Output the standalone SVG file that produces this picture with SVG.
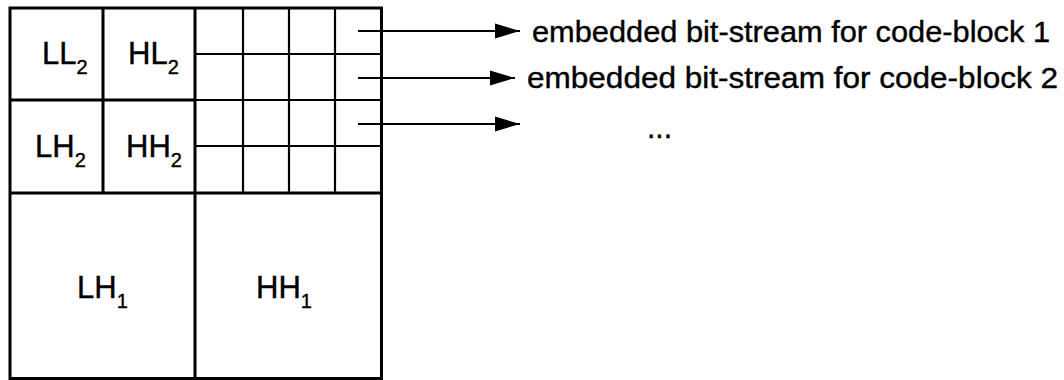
<svg xmlns="http://www.w3.org/2000/svg" width="1064" height="380" viewBox="0 0 1064 380">
  <style>
    .frame { fill: none; stroke: #000; stroke-width: 3; }
    .grid { fill: none; stroke: #000; stroke-width: 2.2; }
    .band { font-family: "Liberation Sans", Arial, sans-serif; font-size: 31px; fill: #000; stroke: #000; stroke-width: 0.4; }
    .sub { font-size: 20px; }
    .label { font-family: "Liberation Sans", Arial, sans-serif; font-size: 30px; fill: #000; stroke: #000; stroke-width: 0.4; }
    .conn { stroke: #000; stroke-width: 2.2; fill: none; marker-end: url(#head); }
  </style>
  <defs>
    <marker id="head" markerUnits="userSpaceOnUse" markerWidth="26" markerHeight="16" refX="25" refY="8" orient="auto">
      <path d="M0,0.5 L25,8 L0,15.5 Z" fill="#000"/>
    </marker>
  </defs>
  <rect width="1064" height="380" fill="#fff"/>

  <!-- subband layout -->
  <g id="subbands">
    <rect class="frame" x="10" y="8" width="371.5" height="370.5"/>
    <line class="frame" x1="195" y1="8" x2="195" y2="378.5"/>
    <line class="frame" x1="10" y1="193" x2="381.5" y2="193"/>
    <line class="frame" x1="103" y1="8" x2="103" y2="193"/>
    <line class="frame" x1="10" y1="100" x2="195" y2="100"/>
  </g>

  <!-- code-blocks of the level-1 HL band -->
  <g id="codeblocks">
    <line class="grid" x1="195" y1="100" x2="381.5" y2="100"/>
    <line class="grid" x1="195" y1="54" x2="381.5" y2="54"/>
    <line class="grid" x1="195" y1="146" x2="381.5" y2="146"/>
    <line class="grid" x1="243" y1="8" x2="243" y2="193"/>
    <line class="grid" x1="289" y1="8" x2="289" y2="193"/>
    <line class="grid" x1="335" y1="8" x2="335" y2="193"/>
  </g>

  <g id="LL2"><text class="band" x="42" y="64">LL<tspan class="sub" dy="10">2</tspan></text></g>
  <g id="HL2"><text class="band" x="128" y="64">HL<tspan class="sub" dy="10">2</tspan></text></g>
  <g id="LH2"><text class="band" x="35" y="157">LH<tspan class="sub" dy="10">2</tspan></text></g>
  <g id="HH2"><text class="band" x="126" y="157">HH<tspan class="sub" dy="10">2</tspan></text></g>
  <g id="LH1"><text class="band" x="77" y="298">LH<tspan class="sub" dy="10">1</tspan></text></g>
  <g id="HH1"><text class="band" x="256" y="298">HH<tspan class="sub" dy="10">1</tspan></text></g>

  <g id="connectors">
    <line class="conn" x1="358" y1="31" x2="520" y2="31"/>
    <line class="conn" x1="358" y1="78" x2="515" y2="78"/>
    <line class="conn" x1="358" y1="124" x2="520" y2="124"/>
  </g>

  <g id="stream1"><text class="label" x="532" y="42" textLength="518" lengthAdjust="spacingAndGlyphs">embedded bit-stream for code-block 1</text></g>
  <g id="stream2"><text class="label" x="527" y="88" textLength="531" lengthAdjust="spacingAndGlyphs">embedded bit-stream for code-block 2</text></g>
  <g id="more"><text class="label" x="647" y="138">...</text></g>
</svg>
